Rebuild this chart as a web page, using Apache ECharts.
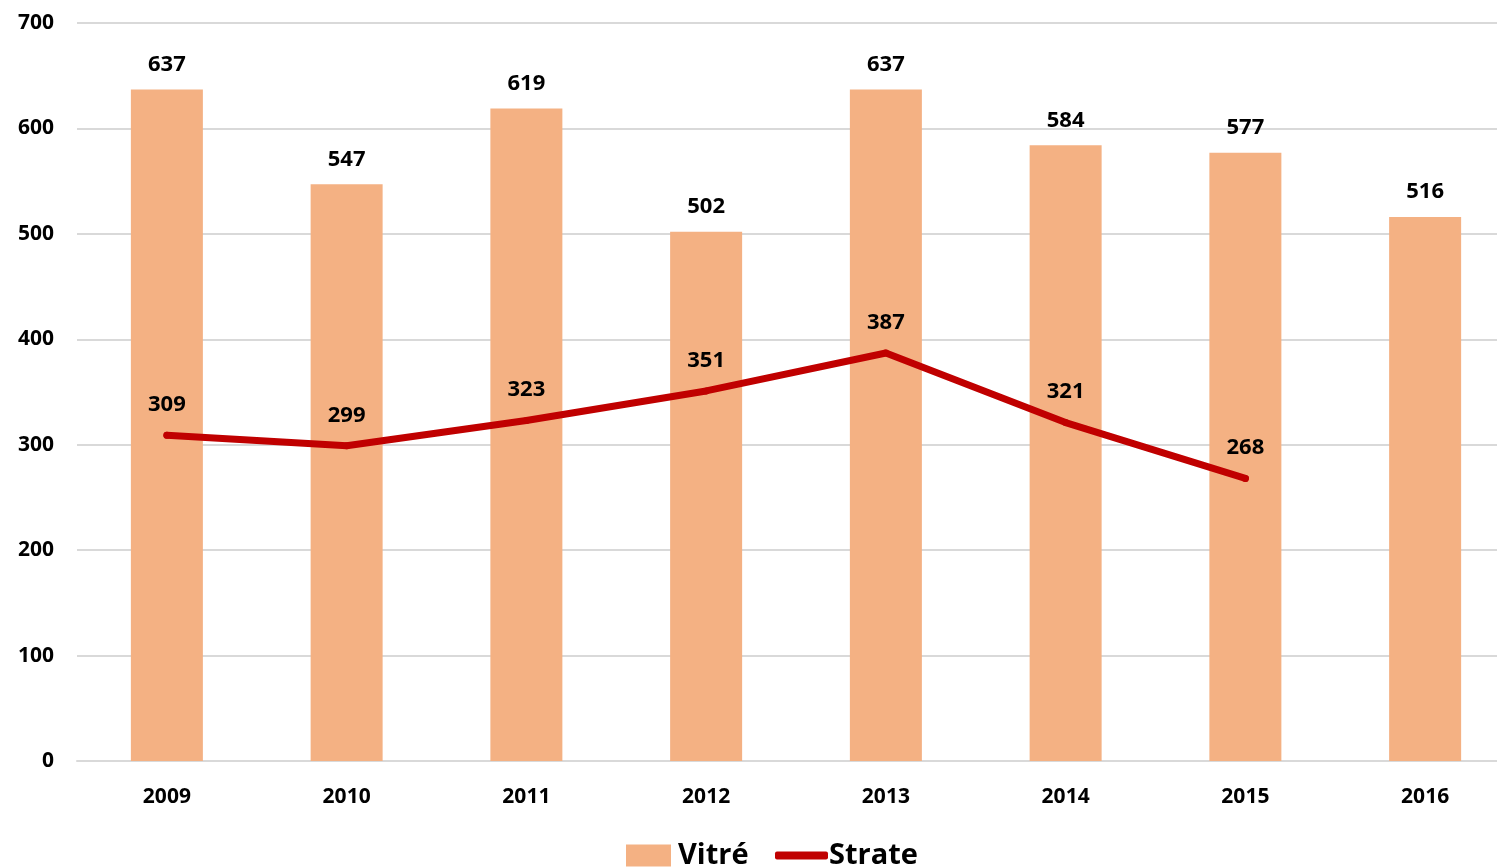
<!DOCTYPE html>
<html>
<head>
<meta charset="utf-8">
<script src="https://cdn.jsdelivr.net/npm/echarts@6/dist/echarts.min.js"></script>
<style>
  html, body { margin: 0; padding: 0; background: #fff; overflow: hidden; }
  /* la zone de tracé dépasse à droite, comme sur l'image d'origine */
  #chart { width: 1515px; height: 868px; }
</style>
</head>
<body>
<div id="chart"></div>
<script>
// données
var years = ['2009', '2010', '2011', '2012', '2013', '2014', '2015', '2016'];
var vitre = [637, 547, 619, 502, 637, 584, 577, 516];
var strate = [309, 299, 323, 351, 387, 321, 268, null];

var font = '"Open Sans", Lato, sans-serif';

var chart = echarts.init(document.getElementById('chart'));
chart.setOption({
  animation: false,
  textStyle: { fontFamily: font },
  grid: { left: 77, right: 0, top: 23, bottom: 107, containLabel: false },
  legend: [{
    data: [{ name: 'Vitré', icon: 'rect' }],
    left: 621, top: 836,
    itemWidth: 45, itemHeight: 22, itemGap: 0,
    textStyle: { fontSize: 29, fontWeight: 'bold', color: '#000', fontFamily: font, padding: [0, 0, 0, 2] }
  }, {
    data: [{ name: 'Strate', icon: 'roundRect' }],
    left: 770, top: 836,
    itemWidth: 53, itemHeight: 8, itemGap: 0,
    textStyle: { fontSize: 29, fontWeight: 'bold', color: '#000', fontFamily: font, padding: [0, 0, 0, -4] }
  }],
  xAxis: {
    type: 'category',
    data: years,
    axisTick: { show: false },
    axisLine: { lineStyle: { color: '#d9d9d9', width: 2 } },
    axisLabel: { color: '#000', fontSize: 21, fontWeight: 'bold', margin: 26 }
  },
  yAxis: {
    type: 'value',
    min: 0, max: 700, interval: 100,
    splitLine: { lineStyle: { color: '#d9d9d9', width: 2 } },
    axisLabel: { color: '#000', fontSize: 21, fontWeight: 'bold', margin: 23 }
  },
  series: [{
    name: 'Vitré',
    type: 'bar',
    data: vitre,
    barWidth: 72,
    itemStyle: { color: '#F4B183' },
    label: {
      show: true, position: 'top', distance: 14,
      color: '#000', fontSize: 22, fontWeight: 'bold'
    }
  }, {
    name: 'Strate',
    type: 'line',
    data: strate,
    symbol: 'circle',
    symbolSize: 7,
    itemStyle: { color: '#C00000' },
    lineStyle: { color: '#C00000', width: 7, cap: 'round' },
    label: {
      show: true, position: 'top', distance: 16,
      color: '#000', fontSize: 22, fontWeight: 'bold'
    }
  }]
});
</script>
</body>
</html>
